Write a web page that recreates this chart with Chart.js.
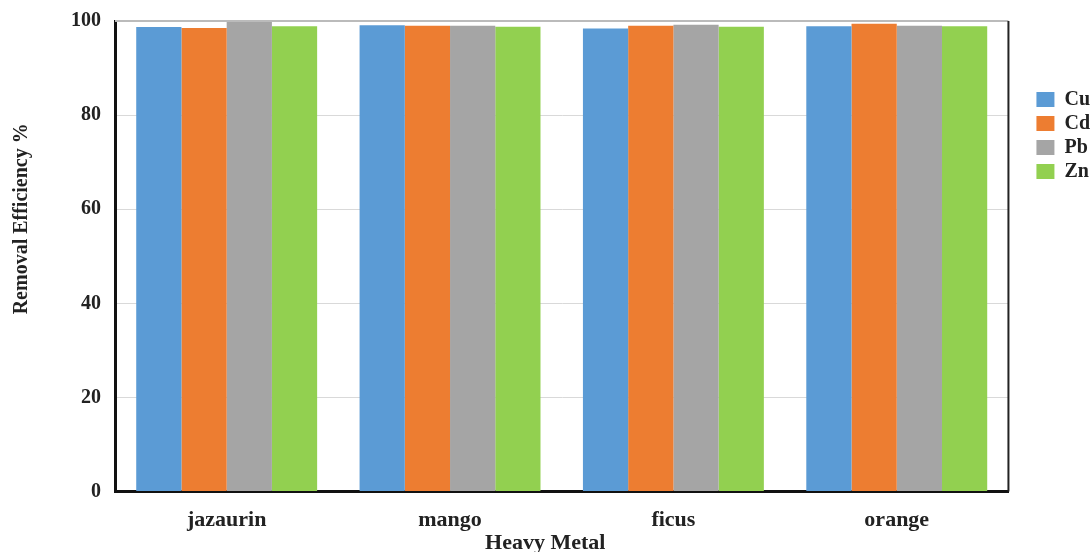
<!DOCTYPE html>
<html>
<head>
<meta charset="utf-8">
<script src="https://cdn.jsdelivr.net/npm/chart.js@4/dist/chart.umd.min.js"></script>
<style>
  html, body { margin: 0; padding: 0; background: #fff; }
  #wrap { width: 1091px; height: 552px; }
</style>
</head>
<body>
<div id="wrap"><canvas id="myChart"></canvas></div>
<script>
const labels = ['jazaurin', 'mango', 'ficus', 'orange'];
const cu = [98.7, 99.1, 98.4, 98.9];
const cd = [98.5, 99.0, 99.0, 99.4];
const pb = [100, 99.0, 99.2, 99.0];
const zn = [98.9, 98.8, 98.8, 98.9];

const serif = '"Liberation Serif", "Times New Roman", serif';

const data = {
    labels: labels,
    datasets: [
        { label: 'Cu', data: cu, backgroundColor: '#5B9BD5' },
        { label: 'Cd', data: cd, backgroundColor: '#ED7D31' },
        { label: 'Pb', data: pb, backgroundColor: '#A5A5A5' },
        { label: 'Zn', data: zn, backgroundColor: '#92D050' },
    ]
};

// right and top edge of the plot frame
const frame = {
    id: 'frame',
    afterDraw(chart) {
        const { ctx, chartArea: a } = chart;
        ctx.save();
        ctx.strokeStyle = '#bbbbbb';
        ctx.lineWidth = 2;
        ctx.beginPath();
        ctx.moveTo(a.left, a.top);
        ctx.lineTo(a.right, a.top);
        ctx.stroke();
        ctx.strokeStyle = '#222';
        ctx.lineWidth = 2;
        ctx.beginPath();
        ctx.moveTo(a.right, a.top);
        ctx.lineTo(a.right, a.bottom);
        ctx.stroke();
        ctx.restore();
    }
};

const config = {
    type: 'bar',
    data: data,
    options: {
        responsive: true,
        maintainAspectRatio: false,
        animation: false,
        layout: { padding: { top: 14, right: -9, left: 10, bottom: 0 } },
        datasets: { bar: { categoryPercentage: 0.81, barPercentage: 1.0 } },
        plugins: {
            legend: {
                position: 'right',
                align: 'start',
                title: { display: true, text: '', padding: { top: 57, bottom: 0 } },
                labels: {
                    boxWidth: 18, boxHeight: 15, padding: 4,
                    color: '#222',
                    font: { family: serif, size: 20, weight: 'bold' }
                }
            },
            tooltip: { enabled: false }
        },
        scales: {
            x: {
                grid: { display: false },
                border: { color: '#111', width: 3 },
                ticks: { color: '#222', padding: 8, font: { family: serif, size: 22, weight: 'bold' } },
                title: { display: true, text: 'Heavy Metal      ', color: '#222', padding: { top: -10, bottom: -2 },
                         font: { family: serif, size: 22, weight: 'bold', lineHeight: 1 } }
            },
            y: {
                min: 0, max: 100,
                ticks: { stepSize: 20, color: '#222', padding: 14, font: { family: serif, size: 20, weight: 'bold', lineHeight: 0.7 } },
                grid: { color: '#d9d9d9', drawTicks: false },
                border: { color: '#111', width: 3 },
                title: { display: true, text: '               Removal Efficiency %', color: '#222', padding: { top: 0, bottom: 23 },
                         font: { family: serif, size: 20, weight: 'bold' } }
            },
            // empty right-hand gap between the plot and the legend
            gap: {
                position: 'right',
                display: true,
                ticks: { display: false },
                grid: { display: false, drawTicks: false },
                border: { display: false },
                afterFit: (scale) => { scale.width = 24; }
            }
        }
    },
    plugins: [frame]
};

const myChart = new Chart(document.getElementById('myChart'), config);
</script>
</body>
</html>
